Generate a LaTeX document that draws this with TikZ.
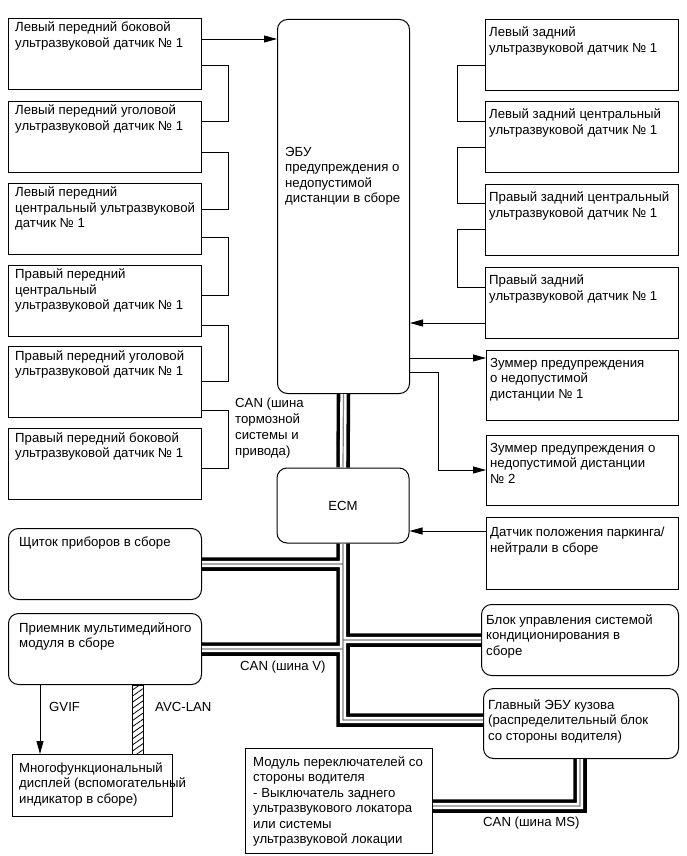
\documentclass[tikz,border=0pt]{standalone}
\usepackage{fontspec}
\setmainfont{Liberation Sans}
\usetikzlibrary{arrows.meta,positioning,patterns.meta}

\begin{document}
\begin{tikzpicture}[
  x=1pt, y=-1pt,
  every node/.style={font=\fontsize{13.2}{15.5}\selectfont, inner sep=0pt},
  sbox/.style={draw, line width=1pt, anchor=north west},
  rbox/.style={sbox, rounded corners=10pt},
  sensor/.style={sbox, minimum width=193, minimum height=71},
  txt/.style 2 args={anchor=north west, align=left, xshift=#1pt, yshift=-#2pt},
  wire/.style={line width=0.9pt},
  arr/.style={wire, -{Triangle[length=13pt, width=7pt]}},
  bus/.style={draw=gray, line width=1.2pt,
    preaction={draw=black, line width=13.5pt},
    preaction={draw=white, line width=6.4pt}},
]
\useasboundingbox (0,0) rectangle (686,856);

%% Front sensors (left column)
\node[sensor, label={[txt={7}{4}]north west:{Левый передний боковой\\ультразвуковой датчик №~1}}] (lfside) at (8,18) {};
\node[sensor, label={[txt={7}{4}]north west:{Левый передний уголовой\\ультразвуковой датчик №~1}}] (lfcorner) at (8,101) {};
\node[sensor, label={[txt={7}{4}]north west:{Левый передний\\центральный ультразвуковой\\датчик №~1}}] (lfcenter) at (8,183) {};
\node[sensor, label={[txt={7}{4}]north west:{Правый передний\\центральный\\ультразвуковой датчик №~1}}] (rfcenter) at (8,265) {};
\node[sensor, label={[txt={7}{4}]north west:{Правый передний уголовой\\ультразвуковой датчик №~1}}] (rfcorner) at (8,346) {};
\node[sensor, label={[txt={7}{4}]north west:{Правый передний боковой\\ультразвуковой датчик №~1}}] (rfside) at (8,428) {};

%% Central units
\node[rbox, minimum width=132, minimum height=374,
      label={[txt={8}{128}]north west:{ЭБУ\\предупреждения о\\недопустимой\\дистанции в сборе}}] (ecu) at (277,19) {};
\node[rbox, minimum width=132, minimum height=75, anchor=center] (ecm) at (343,505.5) {ECM};

%% Rear sensors and buzzers (right column)
\node[sensor, label={[txt={4}{8}]north west:{Левый задний\\ультразвуковой датчик №~1}}] (lrside) at (485,19) {};
\node[sensor, label={[txt={4}{8}]north west:{Левый задний центральный\\ультразвуковой датчик №~1}}] (lrcenter) at (485,101) {};
\node[sensor, label={[txt={4}{8}]north west:{Правый задний центральный\\ультразвуковой датчик №~1}}] (rrcenter) at (485,184) {};
\node[sensor, label={[txt={4}{8}]north west:{Правый задний\\ультразвуковой датчик №~1}}] (rrside) at (485,267) {};
\node[sbox, minimum width=192, minimum height=70,
      label={[txt={4}{8}]north west:{Зуммер предупреждения\\о недопустимой\\дистанции №~1}}] (buzz1) at (486,350) {};
\node[sbox, minimum width=192, minimum height=70,
      label={[txt={4}{8}]north west:{Зуммер предупреждения о\\недопустимой дистанции\\№~2}}] (buzz2) at (486,435) {};
\node[sbox, minimum width=192, minimum height=72,
      label={[txt={4}{10}]north west:{Датчик положения паркинга/\\нейтрали в сборе}}] (park) at (486,517) {};
\node[rbox, minimum width=197, minimum height=71,
      label={[txt={5}{10}]north west:{Блок управления системой\\кондиционирования в\\сборе}}] (aircon) at (481,604) {};
\node[rbox, minimum width=195, minimum height=70,
      label={[txt={5}{11}]north west:{Главный ЭБУ кузова\\(распределительный блок\\со стороны водителя)}}] (body) at (483,688) {};
\node[sbox, minimum width=187, minimum height=105,
      label={[txt={8}{8}]north west:{Модуль переключателей со\\стороны водителя\\- Выключатель заднего\\ультразвукового локатора\\или системы\\ультразвуковой локации}}] (switches) at (245,748) {};

%% Meter / multimedia (left bottom)
\node[rbox, minimum width=193, minimum height=71,
      label={[txt={11}{9}]north west:{Щиток приборов в сборе}}] (meter) at (8,528) {};
\node[rbox, minimum width=193, minimum height=71,
      label={[txt={11}{9}]north west:{Приемник мультимедийного\\модуля в сборе}}] (radio) at (8,613) {};
\node[sbox, minimum width=160, minimum height=62,
      label={[txt={7}{8}]north west:{Многофункциональный\\дисплей (вспомогательный\\индикатор в сборе)}}] (display) at (12,754) {};

%% Sensor chains
\draw[wire] (lfside.east |- 0,65) -- (228,65) |- (lfcorner.east |- 0,121);
\draw[wire] (lfcorner.east |- 0,152) -- (228,152) |- (lfcenter.east |- 0,209);
\draw[wire] (lfcenter.east |- 0,237) -- (228,237) |- (rfcenter.east |- 0,295);
\draw[wire] (rfcenter.east |- 0,325) -- (228,325) |- (rfcorner.east |- 0,381);
\draw[wire] (rfcorner.east |- 0,410) -- (228,410) |- (rfside.east |- 0,468);
\draw[arr] (lfside.east |- 0,39) -- (ecu.west |- 0,39);

\draw[wire] (lrside.west |- 0,65) -- (457,65) |- (lrcenter.west |- 0,121);
\draw[wire] (lrcenter.west |- 0,147) -- (457,147) |- (rrcenter.west |- 0,203);
\draw[wire] (rrcenter.west |- 0,229) -- (457,229) |- (rrside.west |- 0,287);
\draw[arr] (rrside.west |- 0,323) -- (ecu.east |- 0,323);

%% Buzzers and P/N switch
\draw[arr] (ecu.east |- 0,358) -- (buzz1.west |- 0,358);
\draw[arr] (ecu.east |- 0,372) -- (438,372) |- (buzz2.west |- 0,470);
\draw[arr] (park.west |- 0,531) -- (ecm.east |- 0,531);

%% CAN buses
\draw[bus] (ecu.south) -- (ecm.north)
  (ecm.south) |- (body.west |- 0,720)
  (meter.east) -- (ecm.south |- meter.east)
  (radio.east) -- (ecm.south |- radio.east)
  (aircon.west) -- (ecm.south |- aircon.west)
  (body.south -| 580,0) |- (switches.east |- 0,806);

%% GVIF / AVC-LAN
\draw[arr] (40,0 |- radio.south) -- (40,0 |- display.north);
\draw[wire, pattern={Lines[angle=35, distance=5pt, line width=0.8pt]}]
  (132,0 |- radio.south) rectangle (143,0 |- display.north);

%% Bus labels
\node[anchor=north west, align=left, font=\fontsize{13.2}{16}\selectfont] (canbrake) at (235,398)
  {CAN (шина\\тормозной\\системы и\\привода)};
\node[anchor=west] (canv) at (240,667) {CAN (шина V)};
\node[anchor=west] (canms) at (483,823) {CAN (шина MS)};
\node[anchor=west] (gvif) at (49,707) {GVIF};
\node[anchor=west] (avclan) at (155,707) {AVC-LAN};

\end{tikzpicture}
\end{document}
